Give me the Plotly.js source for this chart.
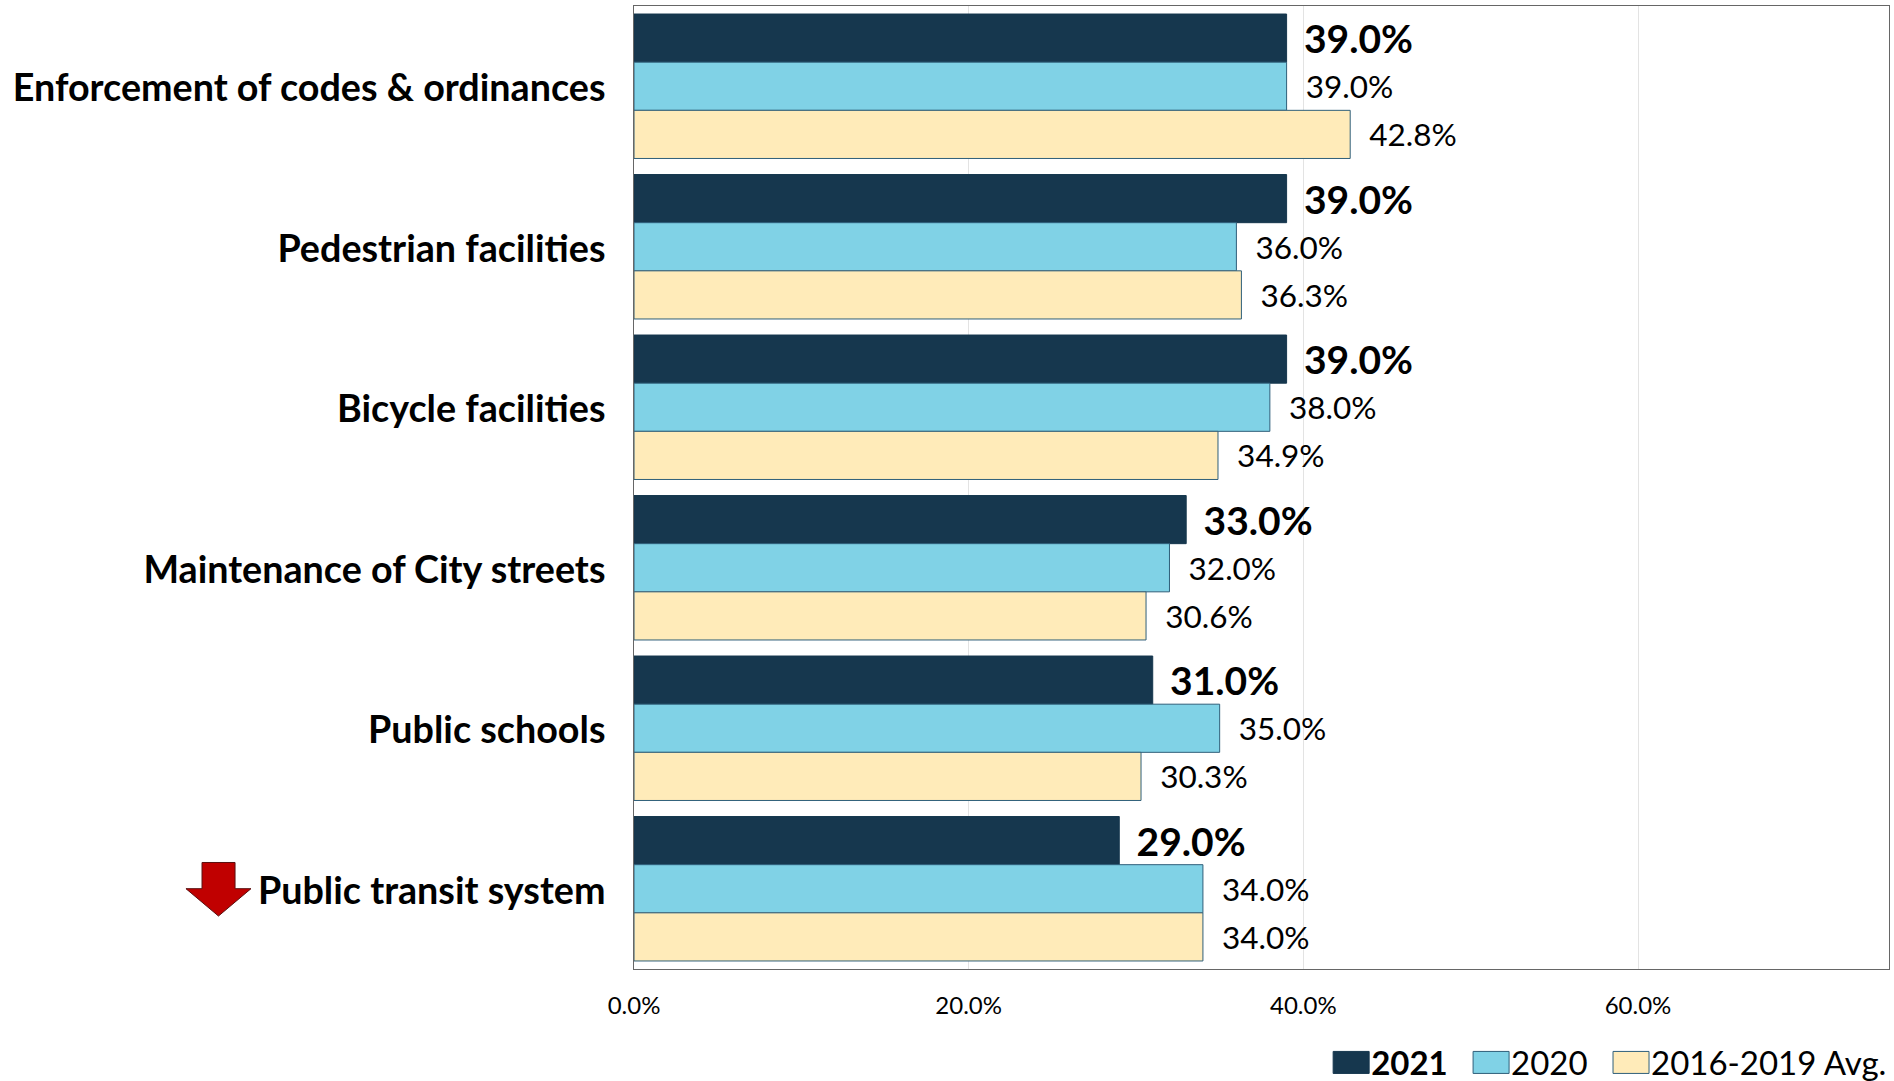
<!DOCTYPE html>
<html><head><meta charset="utf-8">
<script src="https://cdn.plot.ly/plotly-3.0.1.min.js"></script>
<style>html,body{margin:0;padding:0;background:#fff}#c{width:1894px;height:1081px}</style></head>
<body><div id="c"></div>
<script>
const categories = ["Enforcement of codes & ordinances","Pedestrian facilities","Bicycle facilities","Maintenance of City streets","Public schools","Public transit system"];
const v2021 = [39.0,39.0,39.0,33.0,31.0,29.0];
const v2020 = [39.0,36.0,38.0,32.0,35.0,34.0];
const vAvg = [42.8,36.3,34.9,30.6,30.3,34.0];
const xTicks = [0,20,40,60];
const xTickLabels = ["0.0%","20.0%","40.0%","60.0%"];
const FONT = "Lato, 'Open Sans', sans-serif";
function series(name, x, color, lineColor, size, bold, legendId){
  return {type:'bar',orientation:'h',name:name,x:x,y:categories,legend:legendId,showlegend:true,
    marker:{color:color,line:{color:lineColor,width:1}},
    texttemplate:bold?'<b>\u00a0\u2009%{x:.1f}%</b>':'\u00a0\u00a0%{x:.1f}%',
    textposition:'outside',cliponaxis:false,hoverinfo:'x+y',
    textfont:{family:FONT,size:size,color:'#000'},constraintext:'none'};
}
const data = [
  series('<b>2021</b>',v2021,'#16374E','#16374E',39,true,'legend'),
  series('2020',v2020,'#80D2E6','#2F5F7A',31.5,false,'legend2'),
  series('2016-2019 Avg.',vAvg,'#FFEBB9','#2F5F7A',31.5,false,'legend3')
];
function legendAt(x){
  return {x:x,xanchor:'left',y:-0.068,yanchor:'top',orientation:'h',
    font:{family:FONT,size:33,color:'#000'},itemclick:false,itemdoubleclick:false};
}
const layout = {
  width:1894,height:1081,paper_bgcolor:'#fff',plot_bgcolor:'#fff',showlegend:true,
  margin:{l:634,r:5,t:6,b:112,autoexpand:false},
  font:{family:FONT,color:'#000'},
  barmode:'group',bargap:0.1,bargroupgap:0,
  xaxis:{range:[0,75],tickmode:'array',tickvals:xTicks,ticktext:xTickLabels,
    showgrid:true,gridcolor:'#E3E3E3',gridwidth:1,zeroline:false,
    showline:true,linecolor:'#666',linewidth:1,mirror:true,
    ticks:'outside',ticklen:15,tickcolor:'rgba(0,0,0,0)',
    tickfont:{family:FONT,size:24,color:'#000'}},
  yaxis:{autorange:'reversed',type:'category',showgrid:false,zeroline:false,
    showline:true,linecolor:'#666',linewidth:1,mirror:true,
    ticks:'outside',ticklen:20,tickcolor:'rgba(0,0,0,0)',ticklabelshift:-2,
    tickfont:{family:FONT,size:37.7,color:'#000',weight:700}},
  legend:legendAt(0.5555),legend2:legendAt(0.667),legend3:legendAt(0.7785),
  shapes:[{type:'path',xref:'paper',yref:'paper',
    path:'M -0.3442 0.1106 L -0.3442 0.0834 L -0.3570 0.0834 L -0.3311 0.0550 L -0.3052 0.0834 L -0.3179 0.0834 L -0.3179 0.1106 Z',
    fillcolor:'#C00000',line:{color:'#5a1010',width:1}}]
};
Plotly.newPlot('c',data,layout,{displayModeBar:false,responsive:false}).then(function(gd){
  // the reference's legend keys are wide rectangles rather than Plotly's small squares
  gd.querySelectorAll('.legendpoints path').forEach(function(p){
    p.setAttribute('d','M-18,-11H18V11H-18Z');
  });
});
</script></body></html>
